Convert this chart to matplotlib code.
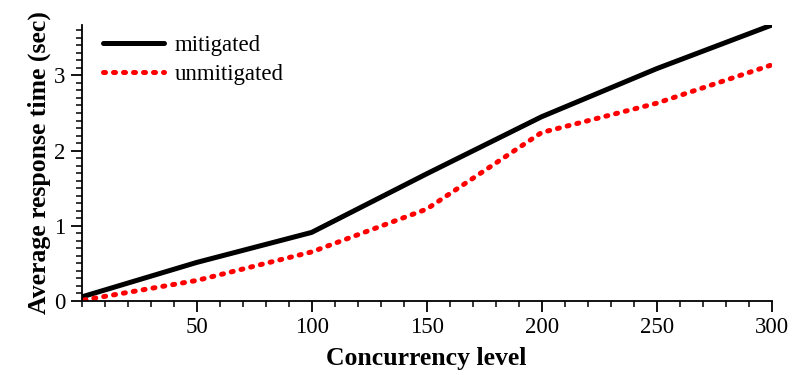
import matplotlib
matplotlib.use("Agg")
import matplotlib.pyplot as plt
from matplotlib.ticker import MultipleLocator

plt.rcParams["font.family"] = ["Liberation Serif", "DejaVu Serif"]

# 데이터
concurrency = [1, 50, 100, 150, 200, 250, 300]
mitigated = [0.06, 0.51, 0.91, 1.69, 2.45, 3.09, 3.67]
unmitigated = [0.01, 0.27, 0.65, 1.22, 2.24, 2.63, 3.14]

fig = plt.figure(figsize=(7.93, 3.75), dpi=100)
ax = fig.add_axes([0.103, 0.198, 0.870, 0.735])

ax.plot(concurrency, mitigated, color="black", linewidth=3.6,
        solid_capstyle="round", solid_joinstyle="round", label="mitigated")
ax.plot(concurrency, unmitigated, color="#ff0000", linewidth=3.6,
        linestyle=(0, (0.4, 1.6)), dash_capstyle="round", label="unmitigated")

ax.set_xlim(0, 300)
ax.set_ylim(0, 3.67)

ax.xaxis.set_major_locator(MultipleLocator(50))
ax.xaxis.set_minor_locator(MultipleLocator(10))
ax.yaxis.set_major_locator(MultipleLocator(1))
ax.yaxis.set_minor_locator(MultipleLocator(0.1))

ax.set_xticks([50, 100, 150, 200, 250, 300])

for side in ["top", "right"]:
    ax.spines[side].set_visible(False)
for side in ["left", "bottom"]:
    ax.spines[side].set_linewidth(1.3)

ax.tick_params(which="major", direction="out", length=8, width=1.3, labelsize=16.5, pad=4)
ax.tick_params(which="minor", direction="out", length=4.3, width=1.1)

ax.set_xlabel("Concurrency level", fontsize=18.5, fontweight="bold", labelpad=6)
ax.set_ylabel("Average response time (sec)", fontsize=18.5, fontweight="bold", labelpad=2)

ax.legend(loc="upper left", bbox_to_anchor=(0.017, 0.998), frameon=False,
          fontsize=16.5, handlelength=2.7, handletextpad=0.45, labelspacing=0.34,
          borderaxespad=0)

fig.savefig("out.png", dpi=100)
